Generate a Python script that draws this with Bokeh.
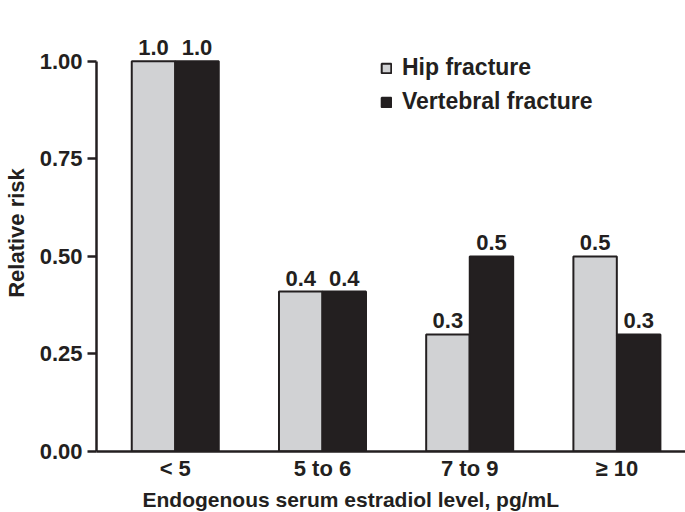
import numpy as np
from bokeh.plotting import figure
from bokeh.models import (ColumnDataSource, Range1d, FixedTicker, NumeralTickFormatter,
                          Legend, LegendItem, Title)
from bokeh.transform import dodge
from bokeh.core.properties import value
from bokeh.embed import file_html
from bokeh.resources import INLINE

# ---- data ----
categories = ["< 5", "5 to 6", "7 to 9", "\u2265 10"]
hip = [1.0, 0.41, 0.30, 0.50]
vertebral = [1.0, 0.41, 0.50, 0.30]
y_ticks = [0.0, 0.25, 0.50, 0.75, 1.00]
series_names = ["Hip fracture", "Vertebral fracture"]
x_title = "Endogenous serum estradiol level, pg/mL"
y_title = "Relative risk"

DARK = "#231f20"
GRAY = "#d1d2d4"
FONT = "Liberation Sans"

idx = list(range(len(categories)))
src = ColumnDataSource(dict(
    x=idx,
    hip=hip,
    vert=vertebral,
    hip_lbl=[f"{v:.1f}" for v in hip],
    vert_lbl=[f"{v:.1f}" for v in vertebral],
))

p = figure(width=685, height=512, output_backend="svg", toolbar_location=None,
           x_range=Range1d(-0.535, 3.466), y_range=Range1d(0, 1.12),
           min_border_left=94, min_border_right=0, min_border_top=14,
           min_border_bottom=60)
p.outline_line_color = None
p.grid.visible = False
p.background_fill_color = "white"
p.border_fill_color = "white"

bw = 0.295
off = 0.148
r_hip = p.vbar(x=dodge("x", -off), top="hip", width=bw, source=src,
               fill_color=GRAY, line_color=DARK, line_width=2)
r_vert = p.vbar(x=dodge("x", off), top="vert", width=bw, source=src,
                fill_color=DARK, line_color=DARK, line_width=2)

for col, lbl, o in (("hip", "hip_lbl", -off), ("vert", "vert_lbl", off)):
    p.text(x=dodge("x", o), y=col, text=lbl, source=src,
           text_align="center", text_baseline="bottom", y_offset=-6,
           text_font=value(FONT), text_font_style="bold",
           text_font_size="22px", text_color=DARK)

# axes
xa = p.xaxis[0]
xa.ticker = FixedTicker(ticks=idx)
xa.major_label_overrides = {i: c for i, c in zip(idx, categories)}
xa.major_tick_out = 0
xa.major_tick_in = 0
xa.minor_tick_out = 0
xa.minor_tick_in = 0
xa.axis_line_width = 2.5
xa.axis_line_color = DARK
xa.major_label_standoff = 4
xa.major_label_text_font_size = "22px"

ya = p.yaxis[0]
ya.ticker = FixedTicker(ticks=y_ticks)
ya.formatter = NumeralTickFormatter(format="0.00")
ya.bounds = (0, 1.0)
ya.major_tick_out = 9
ya.major_tick_in = 0
ya.minor_tick_out = 0
ya.minor_tick_in = 0
ya.major_tick_line_width = 2.5
ya.major_tick_line_color = DARK
ya.axis_line_width = 2.5
ya.axis_line_color = DARK
ya.major_label_standoff = 5
ya.axis_label = y_title
ya.axis_label_standoff = 8
ya.major_label_text_font_size = "22px"
ya.axis_label_text_font_size = "22px"
ya.axis_label_text_font = FONT
ya.axis_label_text_font_style = "bold"
ya.axis_label_text_color = DARK

for ax in (xa, ya):
    ax.major_label_text_font = FONT
    ax.major_label_text_font_style = "bold"
    ax.major_label_text_color = DARK

xt = Title(text=x_title, align="left", offset=46, standoff=4,
           text_font=FONT, text_font_style="bold", text_font_size="21px",
           text_color=DARK)
p.add_layout(xt, "below")

legend = Legend(items=[LegendItem(label=series_names[0], renderers=[r_hip]),
                       LegendItem(label=series_names[1], renderers=[r_vert])],
                location=(284, 336), orientation="vertical",
                glyph_width=12, glyph_height=12, label_height=26,
                spacing=7, padding=0, margin=0, label_standoff=10,
                border_line_color=None, background_fill_alpha=0,
                label_text_font=FONT, label_text_font_style="bold",
                label_text_font_size="23px", label_text_color=DARK)
p.add_layout(legend)

open("out.html", "w").write(file_html(p, INLINE))
